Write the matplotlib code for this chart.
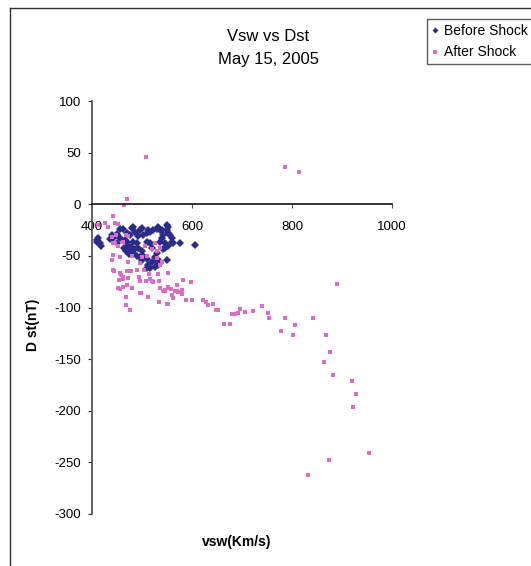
import matplotlib.pyplot as plt
from matplotlib.lines import Line2D

plt.rcParams['font.family'] = ['Liberation Sans', 'DejaVu Sans']
plt.rcParams['axes.unicode_minus'] = False

# Before Shock (Vsw km/s, Dst nT)
before_vsw = [416, 410, 412, 418, 410, 436, 442, 440, 450, 450, 456, 456, 462, 470,
              476, 480, 482, 486, 496, 500, 492, 502, 510, 512, 516, 522, 530, 532,
              536, 540, 550, 552, 550, 552, 556, 560, 560, 562, 552, 546, 576, 606,
              546, 542, 540, 542, 536, 530, 526, 520, 516, 510, 512, 532, 536, 550,
              526, 532, 530, 470, 472, 476, 466, 482, 490, 492, 500, 502, 496, 500,
              482, 510, 516, 520, 490, 502, 510, 464, 468, 478, 474, 486]
before_dst = [-38, -35, -33, -40, -37, -34, -33, -30, -29, -38, -33, -24, -24, -28,
              -30, -23, -22, -27, -25, -23, -31, -30, -28, -25, -27, -25, -24, -22,
              -25, -25, -20, -22, -25, -28, -30, -33, -37, -38, -40, -42, -38, -39,
              -38, -43, -33, -30, -37, -47, -51, -56, -62, -62, -59, -54, -57, -54,
              -61, -59, -56, -37, -40, -45, -35, -37, -38, -42, -45, -50, -51, -54,
              -47, -37, -38, -42, -50, -52, -53, -42, -45, -41, -48, -43]

# After Shock
after_vsw = [508, 786, 814, 470, 464, 442, 446, 452, 432, 426, 412, 440, 448, 446,
             452, 442, 456, 472, 468, 472, 462, 506, 520, 510, 526, 536, 500, 530,
             440, 480, 444, 458, 462, 454, 470, 478, 490, 496, 504, 514, 494, 496,
             508, 522, 532, 534, 540, 470, 462, 456, 480, 468, 512, 498, 534, 546,
             552, 476, 468, 442, 442, 456, 462, 472, 452, 496, 516, 520, 536, 542,
             552, 560, 570, 536, 530, 552,
             552, 558, 546, 570, 582, 598, 566, 572, 580, 580, 562, 550, 588, 600,
             622, 628, 632, 642, 648, 652, 664, 680, 676, 696, 686, 692, 706, 722,
             740, 752, 754, 786, 806, 778, 802, 842, 868, 876, 864, 882, 920, 928,
             922, 954, 874, 832, 890]
after_dst = [46, 36, 31, 5, -1, -11, -18, -19, -22, -18, -20, -32, -30, -38,
             -40, -49, -51, -56, -30, -31, -37, -40, -43, -50, -38, -42, -51, -52,
             -54, -50, -65, -69, -70, -73, -65, -65, -64, -57, -64, -68, -70, -74,
             -74, -75, -68, -74, -56, -78, -80, -82, -81, -90, -90, -86, -95, -83,
             -97, -102, -98, -38, -64, -67, -72, -71, -81, -86, -72, -74, -81, -84,
             -81, -88, -84, -59, -45, -67,
             -80, -82, -84, -78, -73, -75, -84, -85, -83, -87, -91, -97, -93, -93,
             -93, -95, -98, -97, -102, -102, -116, -106, -116, -101, -106, -105, -104, -103,
             -99, -105, -110, -110, -117, -123, -127, -110, -127, -143, -153, -165, -171, -184,
             -196, -241, -248, -262, -77]

fig = plt.figure(figsize=(5.31, 5.66), dpi=100)
ax = fig.add_axes([92 / 531, 1 - 514 / 566, 300 / 531, 413 / 566])

ax.plot(before_vsw, before_dst, 'D', color='#2B2B8C', markersize=3.8,
        markeredgewidth=0, label='Before Shock')
ax.plot(after_vsw, after_dst, 's', color='#DA6EC6', markersize=3.5,
        markeredgewidth=0, label='After Shock')

ax.set_xlim(400, 1000)
ax.set_ylim(-300, 100)
ax.set_xticks([400, 600, 800, 1000])
ax.set_yticks(range(-300, 101, 50))

ax.spines['top'].set_visible(False)
ax.spines['right'].set_visible(False)
ax.spines['bottom'].set_position(('data', 0))
ax.spines['bottom'].set_color('#222222')
ax.spines['left'].set_color('#555555')
ax.spines['left'].set_linewidth(1.3)
ax.spines['bottom'].set_linewidth(1.3)
ax.tick_params(axis='x', direction='out', length=3, pad=9, labelsize=9.5,
               color='#555555')
ax.tick_params(axis='y', direction='out', length=3, pad=5, labelsize=9.5,
               color='#333333')

fig.text(0.505, 0.935, 'Vsw vs Dst', ha='center', va='center', fontsize=12)
fig.text(0.505, 0.894, 'May 15, 2005', ha='center', va='center', fontsize=12)
fig.text(237 / 531, 1 - 542 / 566, 'vsw(Km/s)', ha='center', va='center',
         fontsize=10, fontweight='bold')
fig.text(33 / 531, 1 - 325 / 566, 'D st(nT)', ha='center', va='center',
         fontsize=10, fontweight='bold', rotation=90)

leg = fig.legend(loc='upper left', bbox_to_anchor=(420 / 531, 1 - 12 / 566),
                 fontsize=10, frameon=True, fancybox=False, edgecolor='#333333',
                 handlelength=0.5, handletextpad=0.4, borderpad=0.35,
                 labelspacing=0.55, markerscale=0.8)
leg.get_frame().set_linewidth(1.0)

# chart area border
fig.add_artist(Line2D([10 / 531, 10 / 531], [0, 1 - 8 / 566], color='#333333', lw=1.0))
fig.add_artist(Line2D([10 / 531, 1], [1 - 8 / 566, 1 - 8 / 566], color='#333333', lw=1.0))

fig.savefig('out.png', dpi=100)
